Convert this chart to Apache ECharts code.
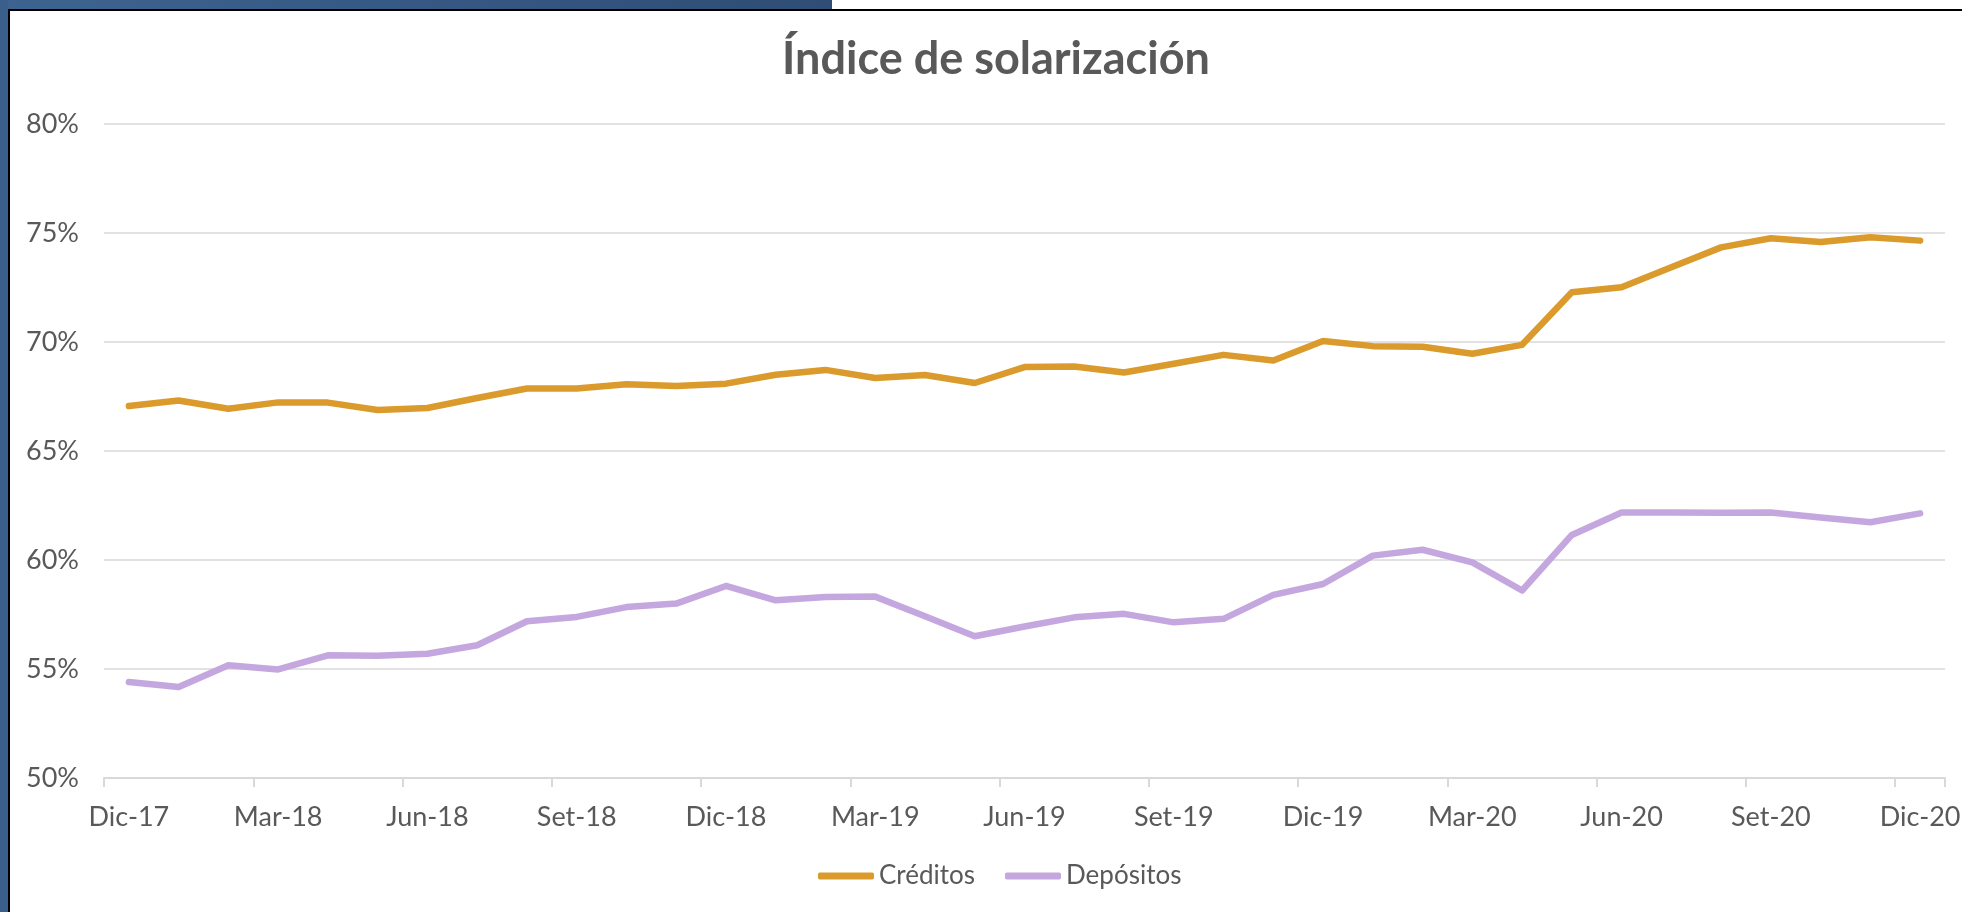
<!DOCTYPE html>
<html>
<head>
<meta charset="utf-8">
<title>Índice de solarización</title>
<script src="https://cdn.jsdelivr.net/npm/echarts@6/dist/echarts.min.js"></script>
<style>
  html, body { margin: 0; padding: 0; background: #fff; }
  #frame-top { position: absolute; left: 0; top: 0; width: 832px; height: 9px; background: linear-gradient(to right, #3d6490, #2f4d75); }
  #frame-left { position: absolute; left: 0; top: 0; width: 8px; height: 912px; background: #3a5f8a; }
  #line-top { position: absolute; left: 8px; top: 9px; width: 1954px; height: 2px; background: #000; }
  #line-left { position: absolute; left: 8px; top: 9px; width: 2px; height: 903px; background: #000; }
  #chart { position: absolute; left: 0; top: 0; width: 1962px; height: 912px; }
</style>
</head>
<body>
<div id="chart"></div>
<div id="frame-top"></div>
<div id="frame-left"></div>
<div id="line-top"></div>
<div id="line-left"></div>
<script>
const titleText = 'Índice de solarización'
const months = ['Dic-17', 'Ene-18', 'Feb-18', 'Mar-18', 'Abr-18', 'May-18', 'Jun-18', 'Jul-18', 'Ago-18', 'Set-18', 'Oct-18', 'Nov-18',
  'Dic-18', 'Ene-19', 'Feb-19', 'Mar-19', 'Abr-19', 'May-19', 'Jun-19', 'Jul-19', 'Ago-19', 'Set-19', 'Oct-19', 'Nov-19',
  'Dic-19', 'Ene-20', 'Feb-20', 'Mar-20', 'Abr-20', 'May-20', 'Jun-20', 'Jul-20', 'Ago-20', 'Set-20', 'Oct-20', 'Nov-20', 'Dic-20']
// % de creditos / depositos en moneda extranjera
const creditos = [67.06, 67.32, 66.94, 67.23, 67.22, 66.88, 66.97, 67.43, 67.87, 67.87, 68.06, 67.98,
  68.09, 68.50, 68.72, 68.35, 68.49, 68.12, 68.85, 68.88, 68.60, 69.00, 69.41, 69.15,
  70.05, 69.81, 69.78, 69.46, 69.87, 72.28, 72.51, 73.43, 74.34, 74.76, 74.59, 74.80, 74.65]
const depositos = [54.40, 54.17, 55.17, 54.98, 55.63, 55.61, 55.70, 56.09, 57.19, 57.39, 57.84, 58.00,
  58.81, 58.15, 58.30, 58.32, 57.42, 56.50, 56.95, 57.37, 57.53, 57.14, 57.30, 58.40,
  58.90, 60.20, 60.47, 59.89, 58.60, 61.15, 62.18, 62.18, 62.17, 62.18, 61.95, 61.73, 62.14]
const yMin = 50
const yMax = 80
const yStep = 5

const font = 'Lato, "Noto Sans", sans-serif'
const grey = '#595959'

const myChart = echarts.init(document.getElementById('chart'))
const options = {
  backgroundColor: 'transparent',
  animation: false,
  title: {
    text: titleText,
    left: 991,
    top: 32,
    textAlign: 'center',
    textStyle: {
      color: grey,
      fontFamily: font,
      fontWeight: 'bold',
      fontSize: 45
    }
  },
  legend: {
    left: 813,
    top: 858,
    icon: 'roundRect',
    itemWidth: 56,
    itemHeight: 7,
    itemGap: 30,
    textStyle: {
      color: grey,
      fontFamily: font,
      fontSize: 26
    },
    data: ['Créditos', 'Depósitos']
  },
  grid: {
    left: 104,
    right: 17,
    top: 124,
    bottom: 134,
    containLabel: false,
    outerBoundsMode: 'none'
  },
  xAxis: {
    type: 'category',
    data: months,
    boundaryGap: true,
    axisLine: {
      lineStyle: { color: '#d9d9d9', width: 2 }
    },
    axisTick: {
      show: true,
      interval: 2,
      length: 9,
      lineStyle: { color: '#d9d9d9', width: 2 }
    },
    axisLabel: {
      interval: 2,
      margin: 26,
      color: grey,
      fontFamily: font,
      fontSize: 27
    },
    splitLine: { show: false }
  },
  yAxis: {
    type: 'value',
    min: yMin,
    max: yMax,
    interval: yStep,
    axisLine: { show: false },
    axisTick: { show: false },
    axisLabel: {
      margin: 25,
      color: grey,
      fontFamily: font,
      fontSize: 27,
      formatter: '{value}%'
    },
    splitLine: {
      lineStyle: { color: '#d9d9d9', width: 1.5 }
    }
  },
  series: [
    {
      name: 'Créditos',
      type: 'line',
      symbol: 'none',
      lineStyle: { color: '#db9a2c', width: 6.5, cap: 'round', join: 'round' },
      itemStyle: { color: '#db9a2c' },
      data: creditos
    },
    {
      name: 'Depósitos',
      type: 'line',
      symbol: 'none',
      lineStyle: { color: '#c5a7e0', width: 6.5, cap: 'round', join: 'round' },
      itemStyle: { color: '#c5a7e0' },
      data: depositos
    }
  ]
}
myChart.setOption(options)
</script>
</body>
</html>
